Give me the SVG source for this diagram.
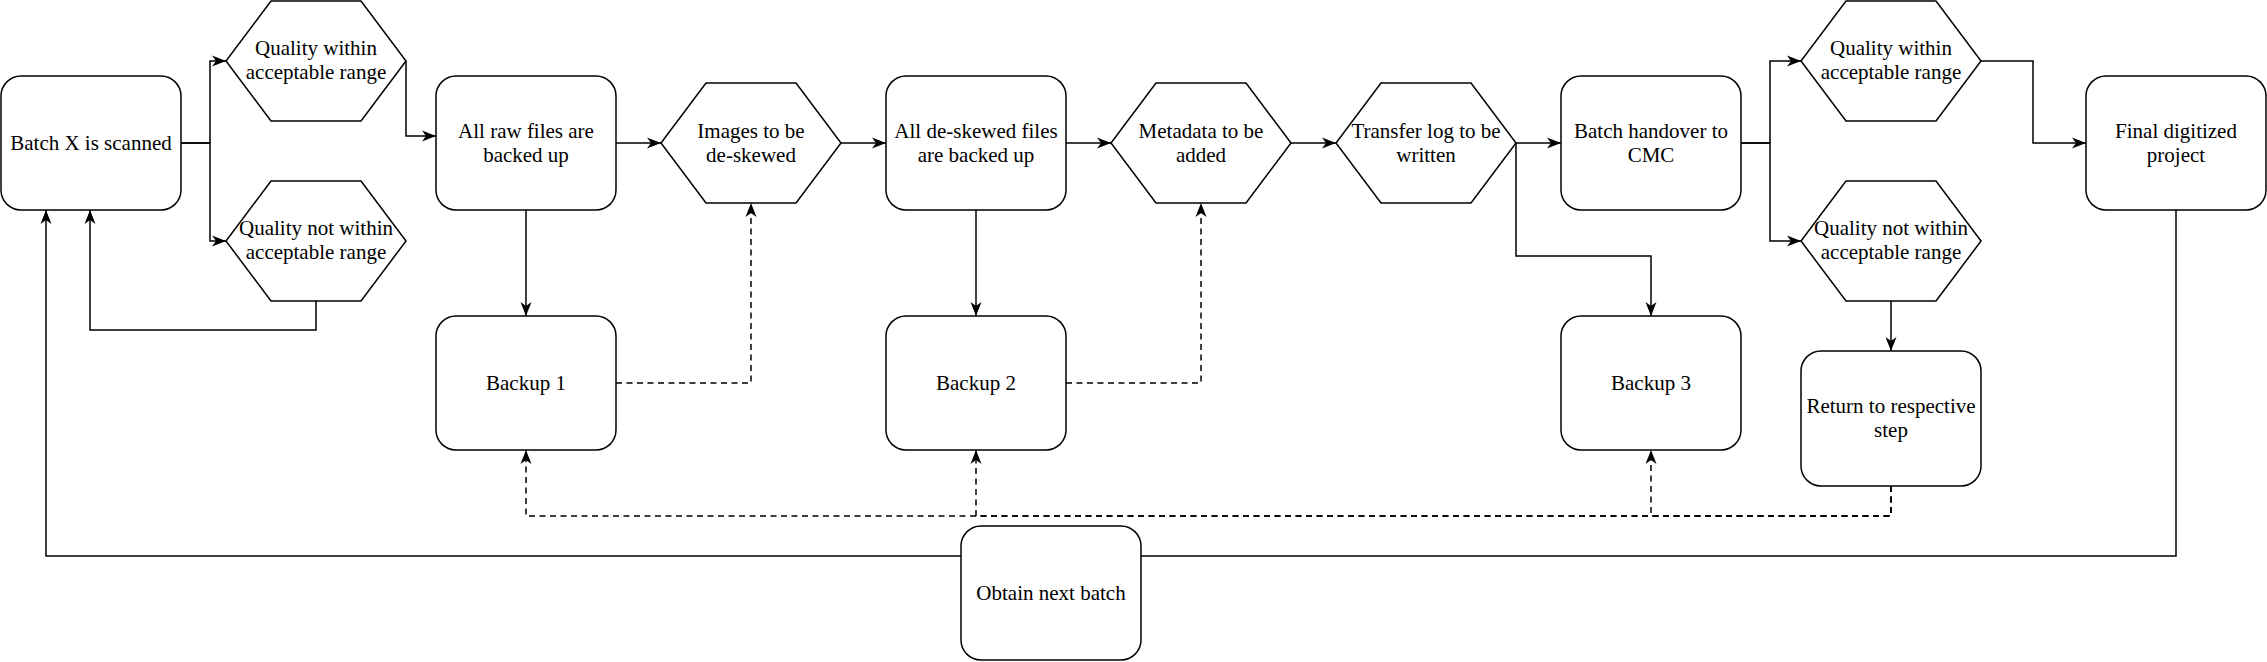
<svg xmlns="http://www.w3.org/2000/svg" width="2267" height="662" viewBox="0 0 2267 662">
<style>
.n{fill:#fff;stroke:#000;stroke-width:1.5}
.c{fill:none;stroke:#000;stroke-width:1.5}
.d{stroke-dasharray:6 4.5}
.t{font-family:"Liberation Serif","Times New Roman",serif;font-size:21px;fill:#000;text-anchor:middle;dominant-baseline:central}
</style>
<defs>
<marker id="a" markerUnits="userSpaceOnUse" viewBox="0 0 15 12" markerWidth="15" markerHeight="12" refX="14" refY="6" orient="auto">
<path d="M0,0.5 L14,6 L0,11.5 L4,6 Z" fill="#000"/>
</marker>
<polygon id="hex" points="45,0 135,0 180,60 135,120 45,120 0,60"/>
</defs>
<rect width="2267" height="662" fill="#fff"/>
<g id="connectors">
<path class="c" d="M181,143 H210 V61 H226" marker-end="url(#a)"/>
<path class="c" d="M181,143 H210 V241 H226" marker-end="url(#a)"/>
<path class="c" d="M406,61 V136 H436" marker-end="url(#a)"/>
<path class="c" d="M316,301 V330 H90 V210" marker-end="url(#a)"/>
<path class="c" d="M616,143 H661" marker-end="url(#a)"/>
<path class="c" d="M526,210 V316" marker-end="url(#a)"/>
<path class="c d" d="M616,383 H751 V203" marker-end="url(#a)"/>
<path class="c" d="M841,143 H886" marker-end="url(#a)"/>
<path class="c" d="M976,210 V316" marker-end="url(#a)"/>
<path class="c" d="M1066,143 H1111" marker-end="url(#a)"/>
<path class="c d" d="M1066,383 H1201 V203" marker-end="url(#a)"/>
<path class="c" d="M1291,143 H1336" marker-end="url(#a)"/>
<path class="c" d="M1516,143 H1561" marker-end="url(#a)"/>
<path class="c" d="M1516,143 V256 H1651 V316" marker-end="url(#a)"/>
<path class="c" d="M1741,143 H1770 V61 H1801" marker-end="url(#a)"/>
<path class="c" d="M1741,143 H1770 V241 H1801" marker-end="url(#a)"/>
<path class="c" d="M1981,61 H2033 V143 H2086" marker-end="url(#a)"/>
<path class="c" d="M1891,301 V351" marker-end="url(#a)"/>
<path class="c d" d="M1891,486 V516 H1651 V450" marker-end="url(#a)"/>
<path class="c d" d="M1891,486 V516 H976 V450" marker-end="url(#a)"/>
<path class="c d" d="M1891,486 V516 H526 V450" marker-end="url(#a)"/>
<path class="c" d="M2176,210 V556 H1141"/>
<path class="c" d="M961,556 H46 V210" marker-end="url(#a)"/>
</g>
<g id="batch-scanned"><rect class="n" x="1" y="76" width="180" height="134" rx="20"/><text class="t" x="91" y="143">Batch X is scanned</text></g>
<g id="q-within-1"><use href="#hex" class="n" x="226" y="1"/><text class="t" x="316" y="48">Quality within</text><text class="t" x="316" y="72">acceptable range</text></g>
<g id="q-not-1"><use href="#hex" class="n" x="226" y="181"/><text class="t" x="316" y="228">Quality not within</text><text class="t" x="316" y="252">acceptable range</text></g>
<g id="raw-backed"><rect class="n" x="436" y="76" width="180" height="134" rx="20"/><text class="t" x="526" y="131">All raw files are</text><text class="t" x="526" y="155">backed up</text></g>
<g id="backup1"><rect class="n" x="436" y="316" width="180" height="134" rx="20"/><text class="t" x="526" y="383">Backup 1</text></g>
<g id="deskew"><use href="#hex" class="n" x="661" y="83"/><text class="t" x="751" y="131">Images to be</text><text class="t" x="751" y="155">de-skewed</text></g>
<g id="deskewed-backed"><rect class="n" x="886" y="76" width="180" height="134" rx="20"/><text class="t" x="976" y="131">All de-skewed files</text><text class="t" x="976" y="155">are backed up</text></g>
<g id="backup2"><rect class="n" x="886" y="316" width="180" height="134" rx="20"/><text class="t" x="976" y="383">Backup 2</text></g>
<g id="metadata"><use href="#hex" class="n" x="1111" y="83"/><text class="t" x="1201" y="131">Metadata to be</text><text class="t" x="1201" y="155">added</text></g>
<g id="transfer-log"><use href="#hex" class="n" x="1336" y="83"/><text class="t" x="1426" y="131">Transfer log to be</text><text class="t" x="1426" y="155">written</text></g>
<g id="handover"><rect class="n" x="1561" y="76" width="180" height="134" rx="20"/><text class="t" x="1651" y="131">Batch handover to</text><text class="t" x="1651" y="155">CMC</text></g>
<g id="backup3"><rect class="n" x="1561" y="316" width="180" height="134" rx="20"/><text class="t" x="1651" y="383">Backup 3</text></g>
<g id="q-within-2"><use href="#hex" class="n" x="1801" y="1"/><text class="t" x="1891" y="48">Quality within</text><text class="t" x="1891" y="72">acceptable range</text></g>
<g id="q-not-2"><use href="#hex" class="n" x="1801" y="181"/><text class="t" x="1891" y="228">Quality not within</text><text class="t" x="1891" y="252">acceptable range</text></g>
<g id="return-step"><rect class="n" x="1801" y="351" width="180" height="135" rx="20"/><text class="t" x="1891" y="406">Return to respective</text><text class="t" x="1891" y="430">step</text></g>
<g id="final"><rect class="n" x="2086" y="76" width="180" height="134" rx="20"/><text class="t" x="2176" y="131">Final digitized</text><text class="t" x="2176" y="155">project</text></g>
<g id="next-batch"><rect class="n" x="961" y="526" width="180" height="134" rx="20"/><text class="t" x="1051" y="593">Obtain next batch</text></g>
</svg>
